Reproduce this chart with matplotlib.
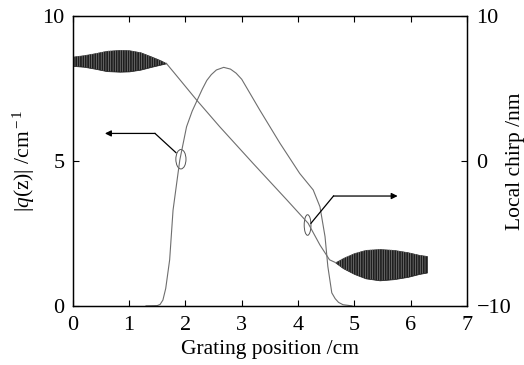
import numpy as np
import matplotlib

matplotlib.use("Agg")
import matplotlib.pyplot as plt
from matplotlib.patches import Ellipse

plt.rcParams["font.family"] = ["Liberation Serif", "DejaVu Serif"]
plt.rcParams["mathtext.fontset"] = "custom"
plt.rcParams["mathtext.rm"] = "Liberation Serif"
plt.rcParams["mathtext.it"] = "Liberation Serif:italic"
plt.rcParams["hatch.linewidth"] = 0.45

# |q(z)| coupling coefficient profile (cm^-1), left axis
q_pos = [1.3, 1.5, 1.55, 1.6, 1.65, 1.72, 1.78, 1.9, 2.02, 2.12, 2.21, 2.3,
         2.38, 2.46, 2.55, 2.68, 2.8, 2.9, 3.0, 3.32, 3.68, 4.03, 4.27,
         4.39, 4.48, 4.53, 4.6, 4.66, 4.72, 4.8, 4.96]
q_val = [0.0, 0.01, 0.05, 0.2, 0.6, 1.59, 3.3, 5.03, 6.18, 6.72, 7.1, 7.48,
         7.78, 7.98, 8.14, 8.23, 8.17, 8.03, 7.82, 6.76, 5.61, 4.57, 4.0,
         3.42, 2.39, 1.36, 0.45, 0.25, 0.12, 0.04, 0.0]

# local chirp (nm), right axis - linear part
chirp_pos = [1.66, 1.81, 2.2, 2.61, 3.2, 3.8, 4.18, 4.39, 4.56, 4.66]
chirp_val = [6.74, 6.04, 4.2, 2.36, -0.16, -2.68, -4.3, -5.8, -6.82, -7.0]

# oscillating parts of the chirp, drawn as envelopes (nm)
band1_pos = [0.0, 0.2, 0.4, 0.6, 0.83, 1.0, 1.2, 1.4, 1.55, 1.66]
band1_hi = [7.2, 7.3, 7.44, 7.6, 7.66, 7.64, 7.5, 7.2, 6.96, 6.74]
band1_lo = [6.56, 6.5, 6.36, 6.2, 6.16, 6.18, 6.3, 6.5, 6.64, 6.74]

band2_pos = [4.66, 4.8, 5.0, 5.2, 5.45, 5.7, 5.95, 6.15, 6.29]
band2_hi = [-7.0, -6.7, -6.36, -6.14, -6.08, -6.14, -6.3, -6.48, -6.56]
band2_lo = [-7.0, -7.4, -7.8, -8.1, -8.24, -8.16, -8.0, -7.8, -7.7]

fig = plt.figure(figsize=(5.24, 3.65), dpi=100)
ax = fig.add_axes([0.139, 0.162, 0.752, 0.794])
ax2 = ax.twinx()

curve_color = "#6e6e6e"

ax.plot(q_pos, q_val, color=curve_color, linewidth=0.8)

ax2.plot(chirp_pos, chirp_val, color=curve_color, linewidth=0.8)
for pos, hi, lo in [(band1_pos, band1_hi, band1_lo), (band2_pos, band2_hi, band2_lo)]:
    ax2.fill_between(pos, lo, hi, facecolor="#1e1e1e", edgecolor="#1e1e1e",
                     linewidth=0.5)
    ax2.fill_between(pos, lo, hi, facecolor="none", edgecolor="#8a8a8a",
                     hatch="|||||||", linewidth=0)

# pointers to the curves
ax.add_patch(Ellipse((1.92, 5.06), 0.18, 0.67, fill=False,
                     edgecolor="#555555", linewidth=0.7))
ax.plot([1.83, 1.46], [5.29, 5.95], color="black", linewidth=0.9)
ax.annotate("", xy=(0.57, 5.95), xytext=(1.46, 5.95),
            arrowprops=dict(arrowstyle="-|>", color="black", lw=0.9,
                            mutation_scale=9, shrinkA=0, shrinkB=0))

ax.add_patch(Ellipse((4.17, 2.79), 0.12, 0.71, fill=False,
                     edgecolor="#555555", linewidth=0.7))
ax.plot([4.23, 4.63], [2.85, 3.79], color="black", linewidth=0.9)
ax.annotate("", xy=(5.77, 3.79), xytext=(4.63, 3.79),
            arrowprops=dict(arrowstyle="-|>", color="black", lw=0.9,
                            mutation_scale=9, shrinkA=0, shrinkB=0))

ax.set_xlim(0, 7)
ax.set_ylim(0, 10)
ax2.set_ylim(-10, 10)

ax.set_xticks(range(8))
ax.set_yticks([0, 5, 10])
ax2.set_yticks([-10, 0, 10])

ax.tick_params(direction="in", length=4, width=0.8, labelsize=16,
               top=True, right=False)
ax.tick_params(axis="x", pad=7)
ax.tick_params(axis="y", pad=6)
ax2.tick_params(direction="in", length=4, width=0.8, labelsize=16, pad=7)

for a in (ax, ax2):
    for sp in a.spines.values():
        sp.set_linewidth(0.9)

ax.set_xlabel("Grating position /cm", fontsize=15.5, labelpad=4)
ax.set_ylabel(r"|$q$(z)| /cm$^{\rm -1}$", fontsize=15.5)
ax.yaxis.set_label_coords(-0.09, 0.5)
ax2.set_ylabel("Local chirp /nm", fontsize=15.5)
ax2.yaxis.set_label_coords(1.098, 0.5)

fig.savefig("out.png", dpi=100)
